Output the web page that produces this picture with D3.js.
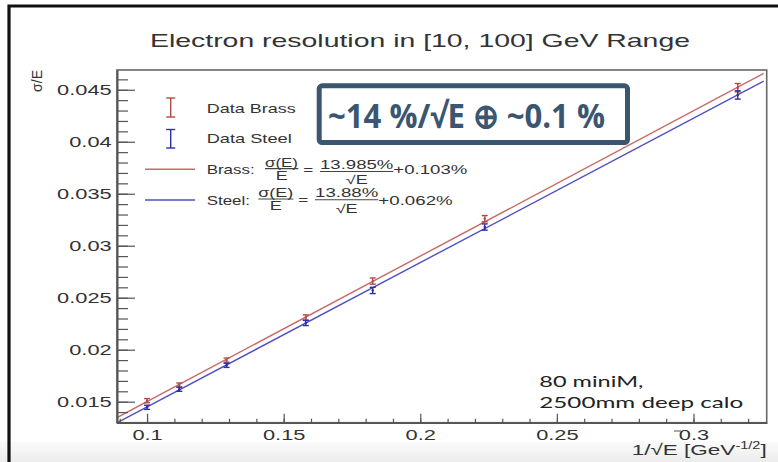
<!DOCTYPE html>
<html>
<head>
<meta charset="utf-8">
<script src="https://cdn.jsdelivr.net/npm/d3@7"></script>
<style>
  body { margin: 0; background: #fff; }
  svg { display: block; }
</style>
</head>
<body>
<svg width="778" height="462"></svg>
<script>
// Values.
const invSqrtE = [0.1, 0.1118, 0.1291, 0.1581, 0.1826, 0.2236, 0.3162];
const brassRes = [0.0151, 0.0166, 0.019, 0.0231, 0.0266, 0.0326, 0.0452];
const brassErr = [0.0002, 0.0002, 0.0002, 0.00025, 0.0003, 0.0003, 0.0004];
const steelRes = [0.01446, 0.0162, 0.0185, 0.02257, 0.0257, 0.0318, 0.0445];
const steelErr = [0.0002, 0.0002, 0.0002, 0.00025, 0.0003, 0.0003, 0.0004];
const fitStochastic = [13.985, 13.88]; // % / sqrt(E)
const fitConstant = [0.103, 0.062]; // %
const xTicks = [0.1, 0.15, 0.2, 0.25, 0.3];
const yTicks = [0.015, 0.02, 0.025, 0.03, 0.035, 0.04, 0.045];

const svg = d3.select("svg");
const ROOT_FONT = "'Liberation Sans', Arial, sans-serif";
const S = 1.56; // the canvas is stretched sideways
const red = "#c86a66", redBar = "#b24a48";
const blue = "#4f4fc4", blueBar = "#2e2ea6";
const axisGrey = "#555";

const x = d3.scaleLinear().domain([0.089, 0.3268]).range([117, 766.7]);
const y = d3.scaleLinear().domain([0.01298, 0.0469]).range([422.7, 70]);

// Bottom grey band and outer border.
const grad = svg.append("defs").append("linearGradient")
  .attr("id", "band").attr("x1", 0).attr("y1", 0).attr("x2", 0).attr("y2", 1);
grad.append("stop").attr("offset", 0).attr("stop-color", "#fbfbfb");
grad.append("stop").attr("offset", 1).attr("stop-color", "#ececec");
svg.append("rect").attr("x", 0).attr("y", 441).attr("width", 778).attr("height", 21)
  .attr("fill", "url(#band)");

svg.append("path").attr("d", "M9,462V6H778")
  .attr("fill", "none").attr("stroke", "#111").attr("stroke-width", 3.2);

// Title.
svg.append("text").attr("x", 150).attr("y", 46.7)
  .attr("font-family", ROOT_FONT).attr("font-size", 19).attr("fill", "#333")
  .attr("textLength", 540).attr("lengthAdjust", "spacingAndGlyphs")
  .text("Electron resolution in [10, 100] GeV Range");

// Fit lines, clipped to the frame.
svg.append("clipPath").attr("id", "frame").append("rect")
  .attr("x", x.range()[0]).attr("y", y.range()[1])
  .attr("width", x.range()[1] - x.range()[0])
  .attr("height", y.range()[0] - y.range()[1]);

const fitColors = [red, blue];
fitStochastic.forEach((a, i) => {
  const f = (v) => (a / 100) * v + fitConstant[i] / 100;
  const x0 = x.domain()[0];
  const x1 = x.invert(x.range()[1] - 3);
  svg.append("line").attr("clip-path", "url(#frame)")
    .attr("x1", x(x0)).attr("y1", y(f(x0)))
    .attr("x2", x(x1)).attr("y2", y(f(x1)))
    .attr("stroke", fitColors[i]).attr("stroke-width", 1.4);
});

// Frame.
svg.append("rect")
  .attr("x", x.range()[0]).attr("y", y.range()[1])
  .attr("width", x.range()[1] - x.range()[0])
  .attr("height", y.range()[0] - y.range()[1])
  .attr("fill", "none").attr("stroke", "#666").attr("stroke-width", 1.6);

// Axes.
function styleAxis(g) {
  g.attr("font-family", ROOT_FONT).attr("font-size", 14);
  g.select(".domain").attr("stroke", axisGrey).attr("stroke-width", 1.6);
  g.selectAll(".tick line").attr("stroke", axisGrey).attr("stroke-width", 1.2);
  g.selectAll(".tick text").attr("fill", "#333").attr("transform", `scale(${S},1)`);
}

const yMinor = d3.range(13, 47).map((d) => d / 1000);
const xMinor = d3.range(9, 33).map((d) => d / 100);

svg.append("g").attr("transform", `translate(${x.range()[0]},0)`)
  .call(d3.axisLeft(y).tickValues(yMinor).tickSize(-11).tickSizeOuter(0).tickFormat(""))
  .call(styleAxis);
svg.append("g").attr("transform", `translate(${x.range()[0]},0)`)
  .call(d3.axisLeft(y).tickValues(yTicks).tickSize(-18).tickSizeOuter(0)
    .tickPadding(3.4).tickFormat((d) => String(d)))
  .call(styleAxis);

svg.append("g").attr("transform", `translate(0,${y.range()[0]})`)
  .call(d3.axisBottom(x).tickValues(xMinor).tickSize(-4).tickSizeOuter(0).tickFormat(""))
  .call(styleAxis);
svg.append("g").attr("transform", `translate(0,${y.range()[0]})`)
  .call(d3.axisBottom(x).tickValues(xTicks).tickSize(-9).tickSizeOuter(0)
    .tickPadding(7).tickFormat((d) => String(d)))
  .call(styleAxis);

// Axis titles.
svg.append("text")
  .attr("transform", "translate(41.5,70) rotate(-90)")
  .attr("text-anchor", "end")
  .attr("font-family", ROOT_FONT).attr("font-size", 14).attr("fill", "#333")
  .text("σ/E");

const xTitle = svg.append("text").attr("x", 631.7).attr("y", 455)
  .attr("font-family", ROOT_FONT).attr("font-size", 15.5).attr("fill", "#333")
  .attr("textLength", 135).attr("lengthAdjust", "spacingAndGlyphs");
xTitle.append("tspan").text("1/√E [GeV");
xTitle.append("tspan").attr("dy", -6).attr("font-size", 10).text("-1/2");
xTitle.append("tspan").attr("dy", 6).text("]");
svg.append("line").attr("x1", 674).attr("x2", 681).attr("y1", 431).attr("y2", 431)
  .attr("stroke", "#555").attr("stroke-width", 1);

// Error bars.
function errorBars(values, errors, color) {
  const pts = invSqrtE.map((v, i) => ({ x: v, y: values[i], e: errors[i] }));
  const g = svg.append("g").attr("stroke", color).attr("stroke-width", 1.4);
  g.selectAll("line.v").data(pts).join("line").attr("class", "v")
    .attr("x1", (d) => x(d.x)).attr("x2", (d) => x(d.x))
    .attr("y1", (d) => y(d.y - d.e)).attr("y2", (d) => y(d.y + d.e));
  g.selectAll("line.t").data(pts).join("line").attr("class", "t")
    .attr("x1", (d) => x(d.x) - 3).attr("x2", (d) => x(d.x) + 3)
    .attr("y1", (d) => y(d.y + d.e)).attr("y2", (d) => y(d.y + d.e));
  g.selectAll("line.b").data(pts).join("line").attr("class", "b")
    .attr("x1", (d) => x(d.x) - 3).attr("x2", (d) => x(d.x) + 3)
    .attr("y1", (d) => y(d.y - d.e)).attr("y2", (d) => y(d.y - d.e));
  g.selectAll("circle").data(pts).join("circle")
    .attr("cx", (d) => x(d.x)).attr("cy", (d) => y(d.y)).attr("r", 1.2)
    .attr("fill", color).attr("stroke", "none");
}
errorBars(brassRes, brassErr, redBar);
errorBars(steelRes, steelErr, blueBar);

// Legend.
function label(px, py, str, size, len, anchor = "start") {
  const t = svg.append("text").attr("x", px).attr("y", py)
    .attr("font-family", ROOT_FONT).attr("font-size", size).attr("fill", "#333")
    .attr("text-anchor", anchor).text(str);
  if (len) t.attr("textLength", len).attr("lengthAdjust", "spacingAndGlyphs");
  return t;
}
function wide(t, cx) {
  t.attr("transform", `translate(${cx},0) scale(1.5,1) translate(${-cx},0)`);
}
function bar(x1, x2, py) {
  svg.append("line").attr("x1", x1).attr("x2", x2).attr("y1", py).attr("y2", py)
    .attr("stroke", "#444").attr("stroke-width", 1.1);
}
function legendErr(cx, y1, y2, color) {
  const g = svg.append("g").attr("stroke", color).attr("stroke-width", 1.4);
  g.append("line").attr("x1", cx).attr("x2", cx).attr("y1", y1).attr("y2", y2);
  g.append("line").attr("x1", cx - 4.5).attr("x2", cx + 4.5).attr("y1", y1).attr("y2", y1);
  g.append("line").attr("x1", cx - 4.5).attr("x2", cx + 4.5).attr("y1", y2).attr("y2", y2);
}

legendErr(170.7, 98, 117, redBar);
label(206.7, 112.5, "Data Brass", 12.4, 89);
legendErr(170.7, 129.5, 148, blueBar);
label(206.7, 143, "Data Steel", 12.4, 85);

svg.append("line").attr("x1", 145).attr("x2", 195).attr("y1", 169.3).attr("y2", 169.3)
  .attr("stroke", red).attr("stroke-width", 1.4);
label(206.7, 174, "Brass:", 12.4, 48);
label(265, 166.5, "σ(E)", 12, 33);
bar(265, 298.3, 168.6);
wide(label(281.7, 180.3, "E", 12, null, "middle"), 281.7);
label(303.3, 173.8, "=", 12, 10);
label(320, 168.8, "13.985%", 12, 73.3);
bar(320, 393.3, 171.5);
wide(label(356.7, 184.5, "√E", 12, null, "middle"), 356.7);
label(393.3, 174, "+0.103%", 12.4, 74);

svg.append("line").attr("x1", 145).attr("x2", 195).attr("y1", 200).attr("y2", 200)
  .attr("stroke", blue).attr("stroke-width", 1.4);
label(206.7, 205, "Steel:", 12.4, 43.3);
label(258.3, 197, "σ(E)", 12, 35);
bar(258.3, 293.3, 199);
wide(label(275.8, 209.8, "E", 12, null, "middle"), 275.8);
label(298.3, 204.3, "=", 12, 10);
label(315, 197.3, "13.88%", 12, 63.3);
bar(315, 378.3, 199.8);
wide(label(346.7, 213, "√E", 12, null, "middle"), 346.7);
label(378.3, 204.5, "+0.062%", 12.4, 74.4);

// Detector note.
svg.append("text").attr("x", 539.3).attr("y", 386.7)
  .attr("font-family", "Lato, 'Open Sans', sans-serif").attr("font-size", 16).attr("fill", "#222")
  .attr("textLength", 104).attr("lengthAdjust", "spacingAndGlyphs").text("80 miniM,");
svg.append("text").attr("x", 539.3).attr("y", 408)
  .attr("font-family", "Lato, 'Open Sans', sans-serif").attr("font-size", 16).attr("fill", "#222")
  .attr("textLength", 204).attr("lengthAdjust", "spacingAndGlyphs").text("2500mm deep calo");

// Highlight box.
const boxColor = "#3b5670";
svg.append("rect").attr("x", 319.2).attr("y", 85.8).attr("width", 308.3).attr("height", 56.7)
  .attr("rx", 3).attr("fill", "#fff").attr("stroke", boxColor).attr("stroke-width", 5);
svg.append("text").attr("x", 328).attr("y", 127.7)
  .attr("font-family", "'Open Sans', 'Noto Sans', sans-serif").attr("font-weight", 700)
  .attr("font-size", 34).attr("fill", boxColor)
  .attr("textLength", 277).attr("lengthAdjust", "spacingAndGlyphs")
  .text("~14 %/√E ⊕ ~0.1 %");
</script>
</body>
</html>
